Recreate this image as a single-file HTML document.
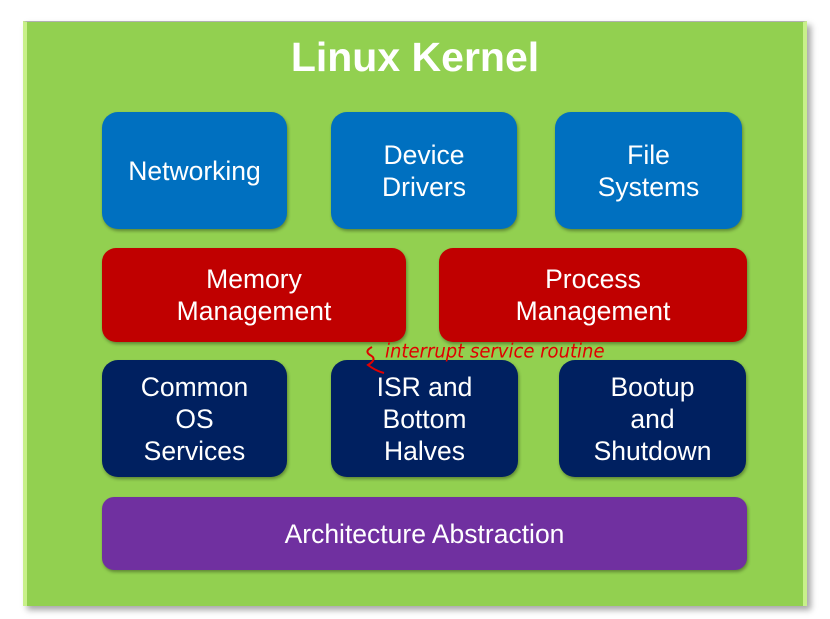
<!DOCTYPE html>
<html><head><style>
html,body{margin:0;padding:0;background:#fff;width:830px;height:619px;overflow:hidden;font-family:"Liberation Sans",sans-serif}
.g{position:absolute;left:23px;top:21px;width:784px;height:585px;background:#92d050;border-left:4px solid #c8f08a;border-right:4px solid #c8f08a;box-sizing:border-box;box-shadow:4px 4px 6px rgba(0,0,0,.35);border-top:1px solid #b0b0b0}
.t{position:absolute;left:0;width:830px;top:34px;text-align:center;color:#fff;font-weight:bold;font-size:41px}
.b{position:absolute;border-radius:16px;color:#fff;display:flex;align-items:center;justify-content:center;text-align:center;font-size:26.5px;line-height:32px;box-shadow:1px 2px 3px rgba(0,0,0,.35)}
.bl{background:#0070c0}.r{background:#c00000;border-radius:14px}.n{background:#002060}.p{background:#7030a0;border-radius:12px}
.note{position:absolute;left:385px;top:341px;color:#e00000;font-size:18px;font-family:"DejaVu Sans",sans-serif;font-style:italic;transform:scaleY(1.1)}
</style></head><body>
<div class="g"></div>
<div class="t">Linux Kernel</div>
<div class="b bl" style="left:102px;top:112px;width:185px;height:117px">Networking</div>
<div class="b bl" style="left:331px;top:112px;width:186px;height:117px">Device<br>Drivers</div>
<div class="b bl" style="left:555px;top:112px;width:187px;height:117px">File<br>Systems</div>
<div class="b r" style="left:102px;top:248px;width:304px;height:94px">Memory<br>Management</div>
<div class="b r" style="left:439px;top:248px;width:308px;height:94px">Process<br>Management</div>
<div class="b n" style="left:102px;top:360px;width:185px;height:117px">Common<br>OS<br>Services</div>
<div class="b n" style="left:331px;top:360px;width:187px;height:117px">ISR and<br>Bottom<br>Halves</div>
<div class="b n" style="left:559px;top:360px;width:187px;height:117px">Bootup<br>and<br>Shutdown</div>
<div class="b p" style="left:102px;top:497px;width:645px;height:73px">Architecture Abstraction</div>
<div class="note">interrupt service routine</div>
<svg style="position:absolute;left:360px;top:345px" width="30" height="35"><path d="M12 2 Q4 6 10 10 Q18 14 8 20 Q16 26 24 28" stroke="#e00000" stroke-width="2" fill="none"/></svg>
</body></html>
